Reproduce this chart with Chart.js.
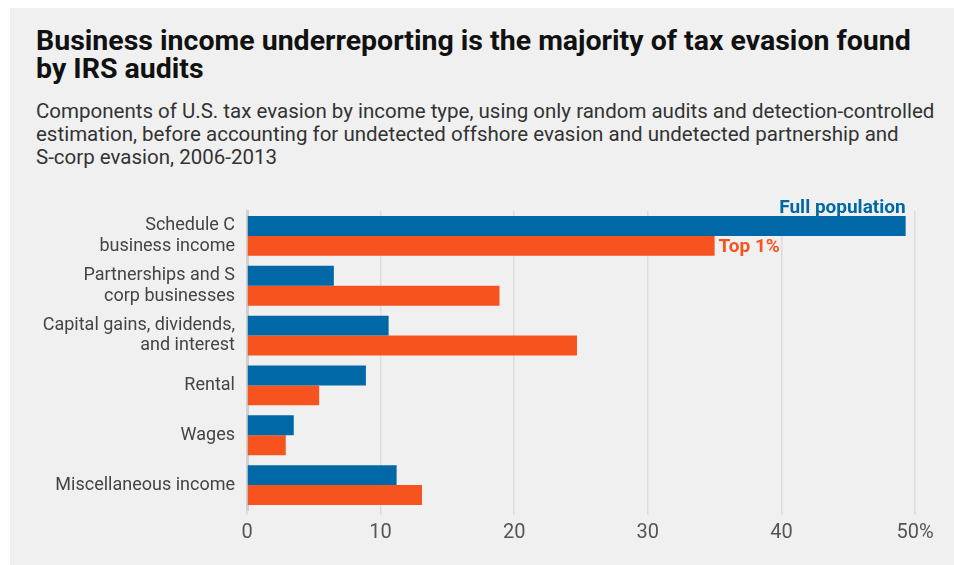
<!DOCTYPE html>
<html>
<head>
<meta charset="utf-8">
<script src="https://cdn.jsdelivr.net/npm/chart.js@4"></script>
<style>
  html, body { margin: 0; padding: 0; background: #fff; }
  #panel {
    position: absolute; left: 10px; top: 8px; width: 944px; height: 557px;
    background: #f0f0f0; font-family: Roboto, sans-serif;
  }
  #title {
    position: absolute; left: 26px; top: 19px; width: 885px;
    font-size: 28.5px; font-weight: bold; line-height: 28px; color: #111;
  }
  #subtitle {
    position: absolute; left: 26px; top: 92px; width: 915px;
    font-size: 20.5px; line-height: 23px; color: #333;
  }
  .nb { white-space: nowrap; }
  #wrap { position: absolute; left: 0; top: 182px; width: 944px; height: 375px; }
</style>
</head>
<body>
<div id="panel">
  <div id="title">Business income underreporting is the majority of tax evasion found by IRS audits</div>
  <div id="subtitle">Components of U.S. tax evasion by income type, using only random audits and detection-controlled estimation, before accounting for undetected offshore evasion and undetected partnership and <span class="nb">S-corp</span> evasion, 2006-2013</div>
  <div id="wrap"><canvas id="chart"></canvas></div>
</div>
<script>
const categories = [
  ['Schedule C', 'business income'],
  ['Partnerships and S', 'corp businesses'],
  ['Capital gains, dividends,', 'and interest'],
  'Rental',
  'Wages',
  'Miscellaneous income'
];
const fullPopulation = [49.3, 6.5, 10.6, 8.9, 3.5, 11.2];
const top1 = [35.0, 18.9, 24.7, 5.4, 2.9, 13.1];
const xTicks = [0, 10, 20, 30, 40, 50];

const blue = '#0068a6';
const orange = '#f7531f';

// series labels drawn next to the first pair of bars
const seriesLabels = {
  id: 'seriesLabels',
  afterDatasetsDraw(chart) {
    const ctx = chart.ctx;
    const b0 = chart.getDatasetMeta(0).data[0];
    const b1 = chart.getDatasetMeta(1).data[0];
    ctx.save();
    ctx.font = 'bold 19px Roboto';
    ctx.fillStyle = blue;
    ctx.textAlign = 'right';
    ctx.textBaseline = 'alphabetic';
    ctx.fillText('Full population', b0.x, b0.y - b0.height / 2 - 3);
    ctx.fillStyle = orange;
    ctx.textAlign = 'left';
    ctx.textBaseline = 'middle';
    ctx.fillText('Top 1%', b1.x + 4, b1.y + 1);
    ctx.restore();
  }
};

new Chart(document.getElementById('chart'), {
  type: 'bar',
  data: {
    labels: categories,
    datasets: [
      { label: 'Full population', data: fullPopulation, backgroundColor: blue },
      { label: 'Top 1%', data: top1, backgroundColor: orange }
    ]
  },
  options: {
    indexAxis: 'y',
    responsive: true,
    maintainAspectRatio: false,
    animation: false,
    datasets: {
      bar: { barPercentage: 1.0, categoryPercentage: 0.8 }
    },
    layout: { padding: { top: 21, right: 39, bottom: 14, left: 0 } },
    plugins: {
      legend: { display: false },
      tooltip: { enabled: false }
    },
    scales: {
      x: {
        min: 0,
        max: 50,
        afterBuildTicks: scale => { scale.ticks = xTicks.map(v => ({ value: v })); },
        ticks: {
          color: '#555',
          font: { family: 'Roboto', size: 20 },
          padding: 6,
          callback: v => v === 50 ? v + '%' : v
        },
        grid: { color: '#dcdcdc', lineWidth: 1.5, tickLength: 5 },
        border: { display: false }
      },
      y: {
        afterFit: scale => { scale.width = 237; },
        ticks: {
          color: '#444',
          font: { family: 'Roboto', size: 18, lineHeight: 1.15 },
          padding: 4
        },
        grid: { display: false },
        border: { display: true, color: '#d0d0d0', width: 3 }
      }
    }
  },
  plugins: [seriesLabels]
});
</script>
</body>
</html>
